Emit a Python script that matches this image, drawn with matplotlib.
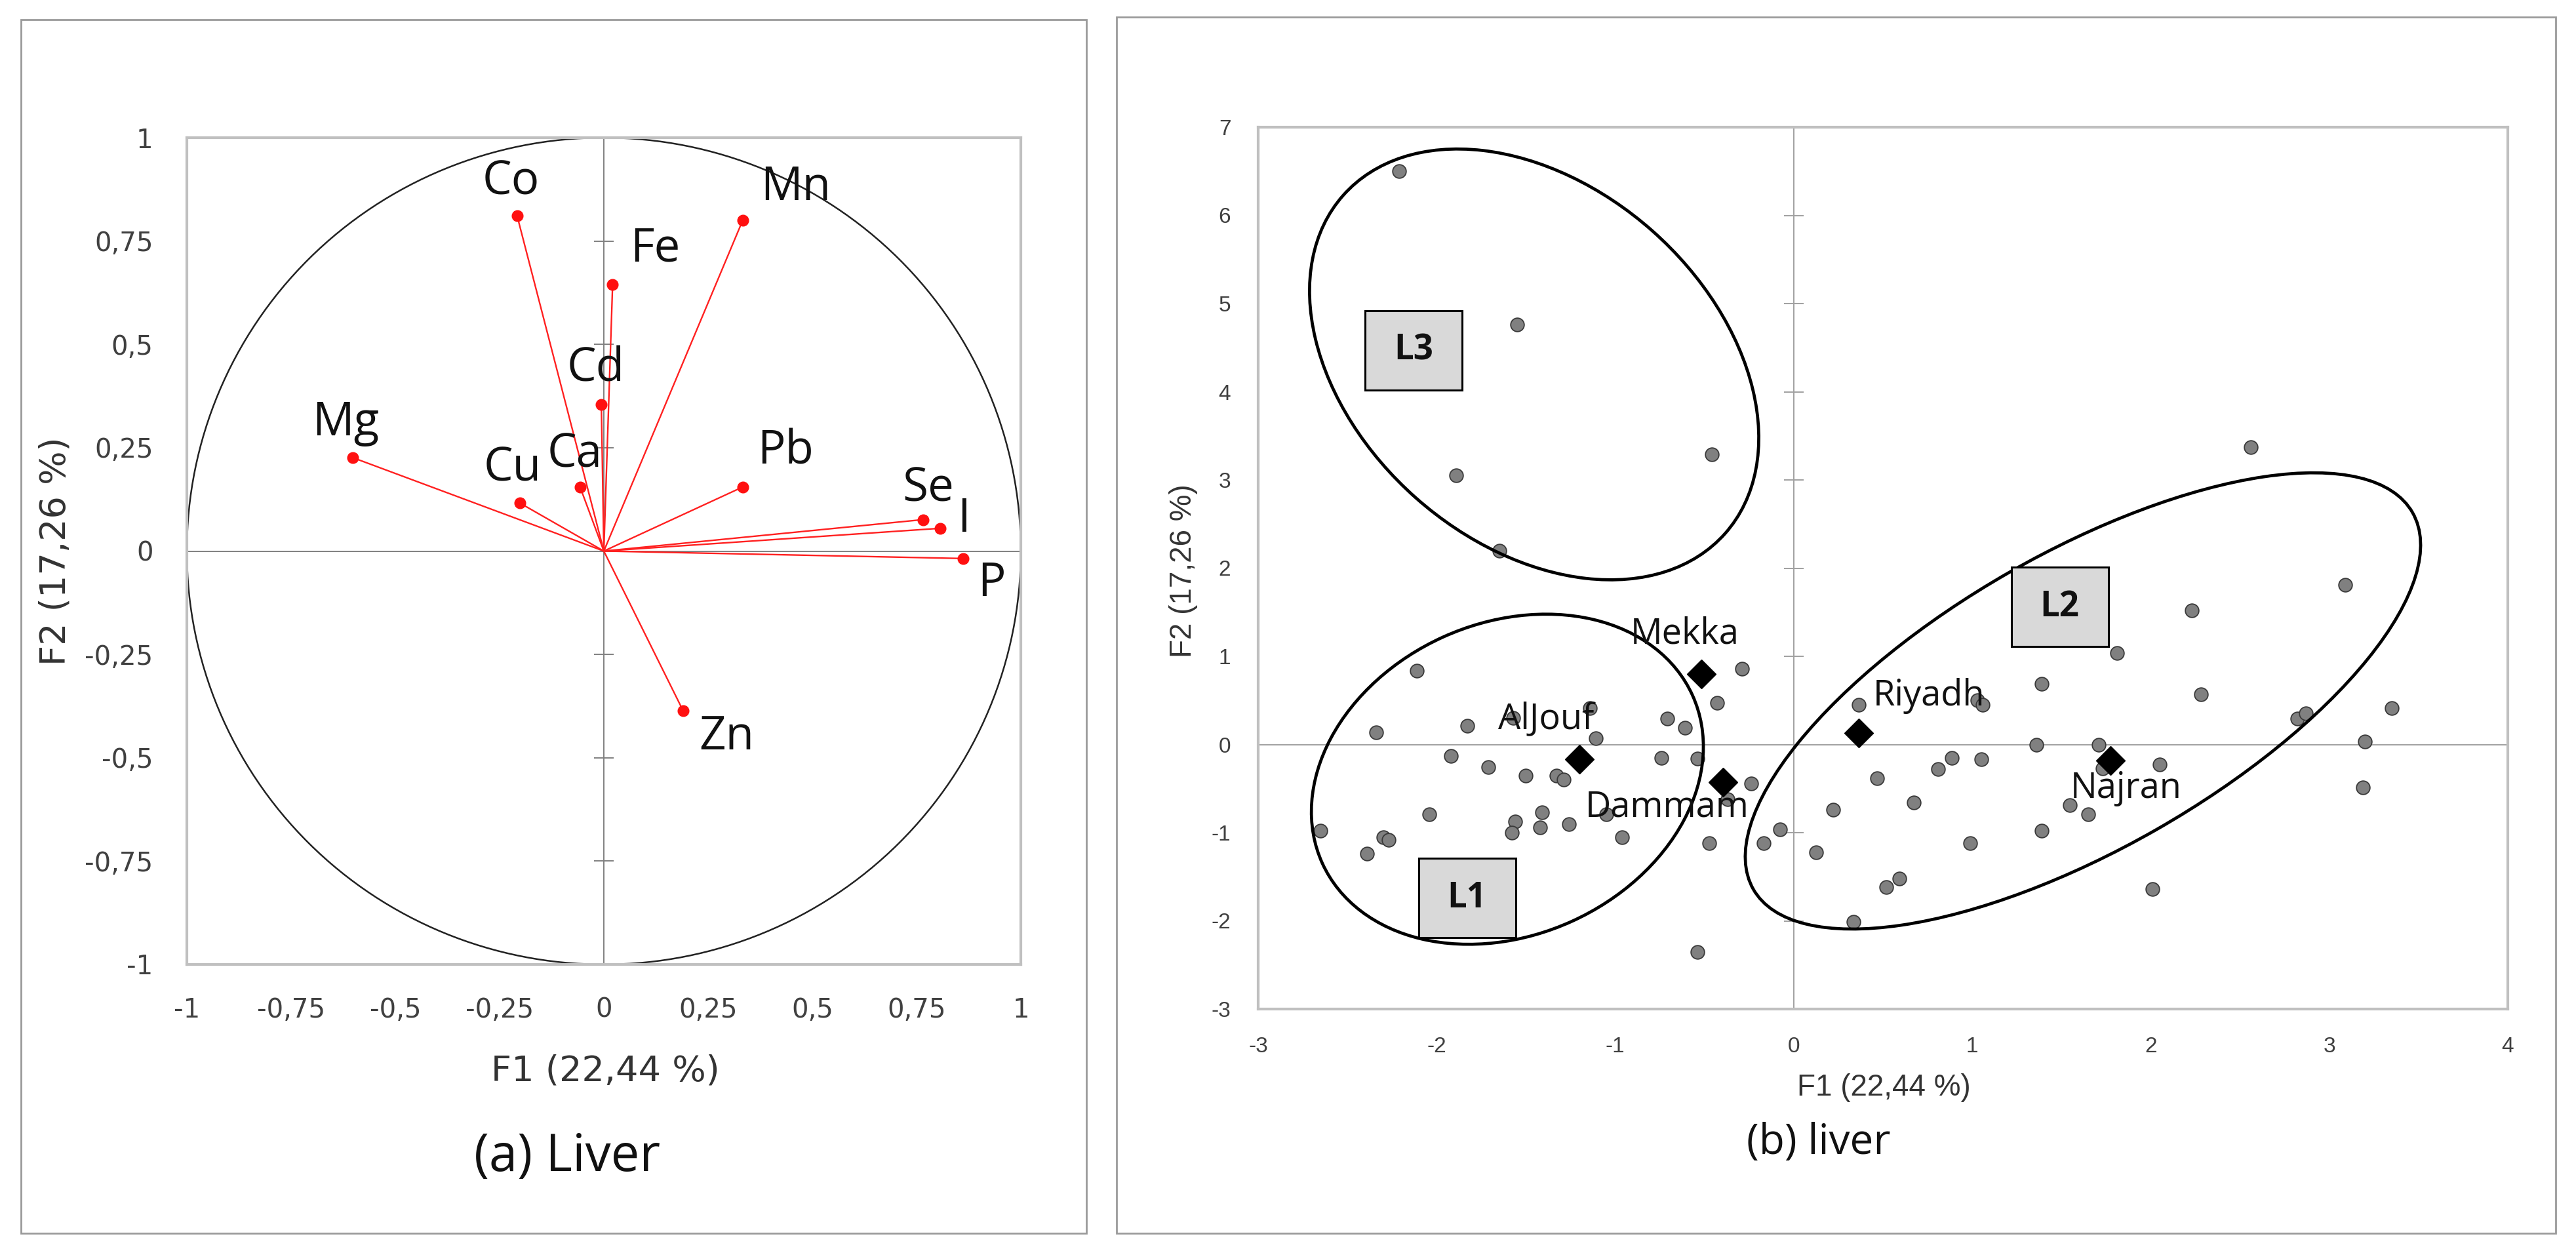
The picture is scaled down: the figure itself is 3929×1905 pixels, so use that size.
import numpy as np
import matplotlib as mpl
mpl.use('Agg')
import matplotlib.pyplot as plt
from matplotlib.patches import Circle, Ellipse, Rectangle
from matplotlib.transforms import Affine2D

# ---- (a) correlation circle: loadings on F1 / F2
elements = ['Co', 'Mn', 'Fe', 'Cd', 'Mg', 'Cu', 'Ca', 'Pb', 'Se', 'I', 'P', 'Zn']
f1_load = [-0.208, 0.333, 0.021, -0.006, -0.602, -0.201, -0.057, 0.333, 0.765, 0.806, 0.862, 0.190]
f2_load = [0.811, 0.800, 0.644, 0.355, 0.226, 0.116, 0.155, 0.155, 0.076, 0.055, -0.018, -0.386]
ticks_a = [-1, -0.75, -0.5, -0.25, 0, 0.25, 0.5, 0.75, 1]

# ---- (b) observations scores
obs_x = [-2.21, -1.55, -0.46, -1.89, -1.65, 2.56, 3.09, 2.23, 1.81, 1.39, 2.28, 1.03, 1.06,
         0.365, 2.82, 2.87, 3.35, 3.20, 3.19, 1.36, 1.71, 1.73, 2.05, 0.886, 0.81, 1.05,
         0.466, 0.674, 0.22, 1.545, 1.65, 1.39, 0.99, 0.52, 0.59, 0.333, 2.01, 0.126,
         -0.076, -0.17, -0.24, -0.29, -0.43, -0.475, -0.54, -0.54, -0.61, -0.71, -0.74,
         -0.37, -0.96, -1.05, -1.11, -1.14, -1.33, -1.29, -1.26, -1.41, -1.42, -1.50,
         -1.56, -1.58, -1.57, -1.71, -1.83, -1.92, -2.04, -2.11, -2.34, -2.30, -2.27,
         -2.39, -2.65]
obs_y = [6.50, 4.76, 3.29, 3.05, 2.20, 3.37, 1.81, 1.52, 1.04, 0.69, 0.57, 0.50, 0.45,
         0.45, 0.29, 0.35, 0.41, 0.03, -0.49, 0.00, 0.00, -0.27, -0.23, -0.15, -0.28, -0.17,
         -0.38, -0.66, -0.74, -0.69, -0.79, -0.98, -1.12, -1.62, -1.52, -2.01, -1.64, -1.22,
         -0.96, -1.12, -0.44, 0.86, 0.47, -1.12, -2.35, -0.16, 0.19, 0.29, -0.15,
         -0.62, -1.05, -0.79, 0.07, 0.41, -0.35, -0.40, -0.90, -0.77, -0.94, -0.35,
         -0.87, -1.00, 0.30, -0.26, 0.21, -0.13, -0.79, 0.84, 0.14, -1.05, -1.08,
         -1.24, -0.98]

cities = ['Mekka', 'AlJouf', 'Dammam', 'Riyadh', 'Najran']
city_x = [-0.517, -1.20, -0.395, 0.365, 1.774]
city_y = [0.80, -0.17, -0.43, 0.13, -0.185]

groups = ['L1', 'L2', 'L3']
xticks_b = [-3, -2, -1, 0, 1, 2, 3, 4]
yticks_b = [-3, -2, -1, 0, 1, 2, 3, 4, 5, 6, 7]


def comma(v):
    s = ('%g' % v).replace('.', ',')
    return s


W, H = 3930, 1905
fig = plt.figure(figsize=(W / 100, H / 100), dpi=100)
fig.patch.set_color('white')

# panel frames (pixel coords)
for (x0, y0, x1, y1) in [(32, 30, 1657, 1881), (1703, 26, 3898, 1881)]:
    fig.patches.append(Rectangle((x0 / W, 1 - y1 / H), (x1 - x0) / W, (y1 - y0) / H,
                                 transform=fig.transFigure, fill=False,
                                 edgecolor='#9a9a9a', lw=2))

tick_col = '#404040'

# ================= (a) =================
ax1 = fig.add_axes([285 / W, 1 - 1471 / H, 1272 / W, 1261 / H])
ax1.set_xlim(-1, 1)
ax1.set_ylim(-1, 1)
for sp in ax1.spines.values():
    sp.set_color('#c0c0c0')
    sp.set_linewidth(3)
ax1.axhline(0, color='#808080', lw=1.4, zorder=1)
ax1.axvline(0, color='#808080', lw=1.4, zorder=1)
ax1.plot(np.zeros(len(ticks_a)), ticks_a, ls='none', marker='_', ms=22,
         mew=1.4, color='#808080', zorder=1)
ax1.add_patch(Circle((0, 0), 1, fill=False, edgecolor='#222222', lw=1.8, zorder=2))
for x, y in zip(f1_load, f2_load):
    ax1.plot([0, x], [0, y], color='#ff2020', lw=1.7, zorder=3)
ax1.plot(f1_load, f2_load, ls='none', marker='o', ms=12, color='#ff1010', zorder=4)

lab_off = {'Co': (-7, 37), 'Mn': (58, 36), 'Fe': (47, 39), 'Cd': (-6, 39),
           'Mg': (-8, 38), 'Cu': (-8, 38), 'Ca': (-6, 35), 'Pb': (47, 39),
           'Se': (6, 34), 'I': (26, 10), 'P': (31, -28), 'Zn': (48, -29)}
for name, x, y in zip(elements, f1_load, f2_load):
    ax1.annotate(name, (x, y), xytext=lab_off[name], textcoords='offset points',
                 ha='center', va='center', fontsize=51, family='Open Sans',
                 color='#111111', zorder=5)

ax1.set_xticks(ticks_a)
ax1.set_yticks(ticks_a)
ax1.set_xticklabels([comma(t) for t in ticks_a])
ax1.set_yticklabels([comma(t) for t in ticks_a])
ax1.tick_params(length=0, labelsize=29, colors=tick_col)
ax1.tick_params(axis='x', pad=36)
ax1.tick_params(axis='y', pad=37)
ax1.set_xlabel('F1 (22,44 %)', fontsize=39, color='#333333')
ax1.set_ylabel('F2 (17,26 %)', fontsize=39, color='#333333')
ax1.xaxis.set_label_coords(0.502, -0.129)
ax1.xaxis.label.set_va('center')
ax1.yaxis.set_label_coords(-0.158, 0.5)
ax1.yaxis.label.set_va('center')

fig.text(865 / W, 1 - 1766 / H, '(a) Liver', ha='center', va='center',
         fontsize=56, family='Open Sans', color='#111111')

# ================= (b) =================
ax2 = fig.add_axes([1919 / W, 1 - 1539 / H, 1906 / W, 1345 / H])
ax2.set_xlim(-3, 4)
ax2.set_ylim(-3, 7)
for sp in ax2.spines.values():
    sp.set_color('#c0c0c0')
    sp.set_linewidth(3)
ax2.axhline(0, color='#a0a0a0', lw=1.4, zorder=1)
ax2.axvline(0, color='#a0a0a0', lw=1.4, zorder=1)
ax2.plot(np.zeros(len(yticks_b)), yticks_b, ls='none', marker='_', ms=21,
         mew=1.4, color='#a0a0a0', zorder=1)

ax2.scatter(obs_x, obs_y, s=220, color='#808080', edgecolor='#3a3a3a',
            linewidth=1.3, zorder=3)
ax2.plot(city_x, city_y, ls='none', marker='D', ms=22, color='black', zorder=5)

city_off = {'Mekka': (-18, 44), 'AlJouf': (-37, 44), 'Dammam': (-62, -27),
            'Riyadh': (77, 41), 'Najran': (17, -30)}
for name, x, y in zip(cities, city_x, city_y):
    ax2.annotate(name, (x, y), xytext=city_off[name], textcoords='offset points',
                 ha='center', va='center', fontsize=39, family='Open Sans',
                 color='#111111', zorder=6)

# group ellipses, drawn in pixel space so the tilt matches the picture
px_x = 1906 / 7.0
px_y = 1345 / 10.0
to_px = Affine2D().scale(1 / px_x, 1 / px_y) + ax2.transData
ell = {'L1': ((-1.604, -0.394), 310, 238, 24.4),
       'L2': ((1.62, 0.494), 579, 226, 29.75),
       'L3': ((-1.454, 4.31), 389, 272, -41.5)}
for g in groups:
    (cx, cy), a, b, ang = ell[g]
    ax2.add_patch(Ellipse((cx * px_x, cy * px_y), 2 * a, 2 * b, angle=ang,
                          transform=to_px, fill=False, edgecolor='black',
                          lw=3.4, zorder=4))

box = {'L1': (-1.83, -1.74), 'L2': (1.49, 1.56), 'L3': (-2.13, 4.47)}
bw, bh = 148 / px_x, 121 / px_y
for g in groups:
    bx, by = box[g]
    ax2.add_patch(Rectangle((bx - bw / 2, by - bh / 2), bw, bh, facecolor='#d9d9d9',
                            edgecolor='black', lw=2.2, zorder=6))
    ax2.text(bx, by, g, ha='center', va='center', fontsize=38, fontweight='bold',
             family='Open Sans', color='#111111', zorder=7)

ax2.set_xticks(xticks_b)
ax2.set_yticks(yticks_b)
ax2.set_xticklabels([str(t) for t in xticks_b], family='Liberation Sans')
ax2.set_yticklabels([str(t) for t in yticks_b], family='Liberation Sans')
ax2.tick_params(length=0, labelsize=24, colors=tick_col)
ax2.tick_params(axis='x', pad=30)
ax2.tick_params(axis='y', pad=30)
ax2.set_xlabel('F1 (22,44 %)', fontsize=33, family='Liberation Sans', color='#333333')
ax2.set_ylabel('F2 (17,26 %)', fontsize=33, family='Liberation Sans', color='#333333')
ax2.xaxis.set_label_coords(0.5005, -0.0892)
ax2.xaxis.label.set_va('center')
ax2.yaxis.set_label_coords(-0.0598, 0.497)
ax2.yaxis.label.set_va('center')

fig.text(2774 / W, 1 - 1743 / H, '(b) liver', ha='center', va='center',
         fontsize=46, family='Open Sans', color='#111111')

fig.savefig('out.png', dpi=100)
